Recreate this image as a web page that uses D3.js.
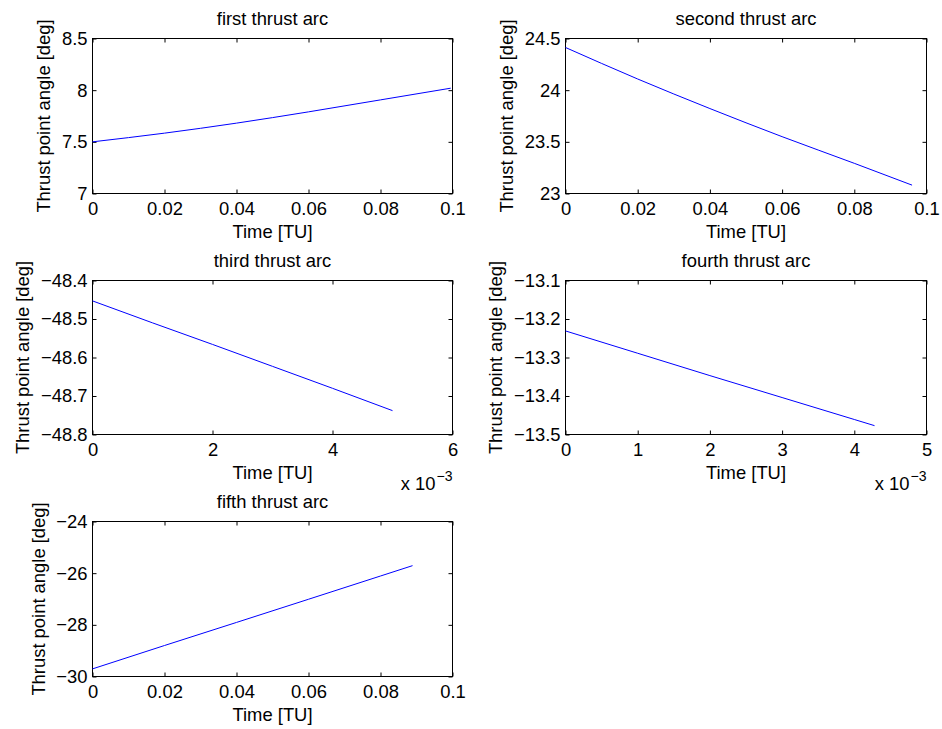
<!DOCTYPE html>
<html><head><meta charset="utf-8">
<script src="https://cdn.jsdelivr.net/npm/d3@7"></script>
<style>
body{margin:0;background:#fff}
svg{display:block}
text{font-family:"Liberation Sans",Arial,Helvetica,sans-serif}
</style>
</head><body>
<svg id="c" width="942" height="729"></svg>
<script>
// ---- data ----
const titles = ["first thrust arc", "second thrust arc", "third thrust arc", "fourth thrust arc", "fifth thrust arc"];
const xLabel = "Time [TU]";
const yLabel = "Thrust point angle [deg]";

const time1  = [0, 0.02, 0.04, 0.06, 0.08, 0.0995];
const angle1 = [7.50, 7.584, 7.681, 7.790, 7.906, 8.019];

const time2  = [0, 0.02, 0.04, 0.06, 0.08, 0.096];
const angle2 = [24.413, 24.108, 23.822, 23.550, 23.292, 23.081];

const time3  = [0, 0.001, 0.002, 0.003, 0.004, 0.005];
const angle3 = [-48.453, -48.510, -48.566, -48.623, -48.680, -48.738];

const time4  = [0, 0.001, 0.002, 0.003, 0.004, 0.00428];
const angle4 = [-13.231, -13.289, -13.347, -13.404, -13.461, -13.477];

const time5  = [0, 0.02, 0.04, 0.06, 0.08, 0.0889];
const angle5 = [-29.705, -28.80, -27.907, -27.01, -26.11, -25.709];

const xTicksTenth = [0, 0.02, 0.04, 0.06, 0.08, 0.1];
const xTicks3 = [0, 0.002, 0.004, 0.006];
const xTicks4 = [0, 0.001, 0.002, 0.003, 0.004, 0.005];

const yTicks1 = [7, 7.5, 8, 8.5];
const yTicks2 = [23, 23.5, 24, 24.5];
const yTicks3 = [-48.8, -48.7, -48.6, -48.5, -48.4];
const yTicks4 = [-13.5, -13.4, -13.3, -13.2, -13.1];
const yTicks5 = [-30, -28, -26, -24];

const multiplierBase = "x 10";
const multiplierExp = "\u22123";

// ---- layout ----
const FS = 18.4;
const cols = [[92.5, 452.5], [565.5, 926.5]];
const rows = [[38.5, 193.5], [280.5, 434.5], [521.5, 676.5]];

const panels = [
  {t: time1, a: angle1, xt: xTicksTenth, yt: yTicks1, c: 0, r: 0, milli: false},
  {t: time2, a: angle2, xt: xTicksTenth, yt: yTicks2, c: 1, r: 0, milli: false},
  {t: time3, a: angle3, xt: xTicks3, yt: yTicks3, c: 0, r: 1, milli: true},
  {t: time4, a: angle4, xt: xTicks4, yt: yTicks4, c: 1, r: 1, milli: true},
  {t: time5, a: angle5, xt: xTicksTenth, yt: yTicks5, c: 0, r: 2, milli: false}
];

const svg = d3.select("#c");
const fmt = d3.format("~g");

panels.forEach((p, i) => {
  const [L, R] = cols[p.c];
  const [T, B] = rows[p.r];
  const x = d3.scaleLinear().domain([p.xt[0], p.xt[p.xt.length - 1]]).range([L, R]);
  const y = d3.scaleLinear().domain([p.yt[0], p.yt[p.yt.length - 1]]).range([B, T]);
  const g = svg.append("g");

  const fx = p.milli ? (d => fmt(Math.round(d * 1000))) : fmt;

  const styleAxis = sel => {
    sel.attr("font-size", FS).attr("font-family", "Liberation Sans, Arial, sans-serif");
    sel.select(".domain").remove();
    sel.selectAll("line").attr("stroke", "#000").attr("stroke-width", 1);
    sel.selectAll("text").attr("fill", "#000");
  };

  g.append("g").attr("transform", `translate(0,${B})`)
    .call(d3.axisBottom(x).tickValues(p.xt).tickSizeInner(-4).tickSizeOuter(0).tickPadding(8.4).tickFormat(fx))
    .call(styleAxis);
  g.append("g").attr("transform", `translate(0,${T})`)
    .call(d3.axisTop(x).tickValues(p.xt).tickSizeInner(-4).tickSizeOuter(0).tickFormat(() => ""))
    .call(styleAxis);
  const la = g.append("g").attr("transform", `translate(${L},0)`)
    .call(d3.axisLeft(y).tickValues(p.yt).tickSizeInner(-4).tickSizeOuter(0).tickPadding(5).tickFormat(fmt))
    .call(styleAxis);
  g.append("g").attr("transform", `translate(${R},0)`)
    .call(d3.axisRight(y).tickValues(p.yt).tickSizeInner(-4).tickSizeOuter(0).tickFormat(() => ""))
    .call(styleAxis);

  g.append("rect").attr("x", L).attr("y", T).attr("width", R - L).attr("height", B - T)
    .attr("fill", "none").attr("stroke", "#000").attr("stroke-width", 1);

  const line = d3.line().x((d, k) => x(p.t[k])).y(d => y(d)).curve(d3.curveMonotoneX);
  g.append("path").datum(p.a).attr("d", line)
    .attr("fill", "none").attr("stroke", "#0000ff").attr("stroke-width", 1);

  // title
  g.append("text").attr("x", (L + R) / 2).attr("y", T - 13.7).attr("text-anchor", "middle")
    .attr("font-size", FS).text(titles[i]);
  // x label
  g.append("text").attr("x", (L + R) / 2).attr("y", B + 44.5).attr("text-anchor", "middle")
    .attr("font-size", FS).text(xLabel);
  // y label
  let maxw = 0;
  la.selectAll("text").each(function () { maxw = Math.max(maxw, this.getComputedTextLength()); });
  const yx = L - 5 - maxw - 11.5;
  g.append("text").attr("transform", `translate(${yx},${(T + B) / 2}) rotate(-90)`)
    .attr("text-anchor", "middle").attr("font-size", FS).text(yLabel);
  // multiplier
  if (p.milli) {
    const m = g.append("text").attr("x", R).attr("y", B + 55).attr("text-anchor", "end").attr("font-size", FS);
    m.append("tspan").text(multiplierBase);
    m.append("tspan").attr("font-size", 14).attr("dy", -9).attr("dx", 1).text(multiplierExp);
  }
});
</script>
</body></html>
